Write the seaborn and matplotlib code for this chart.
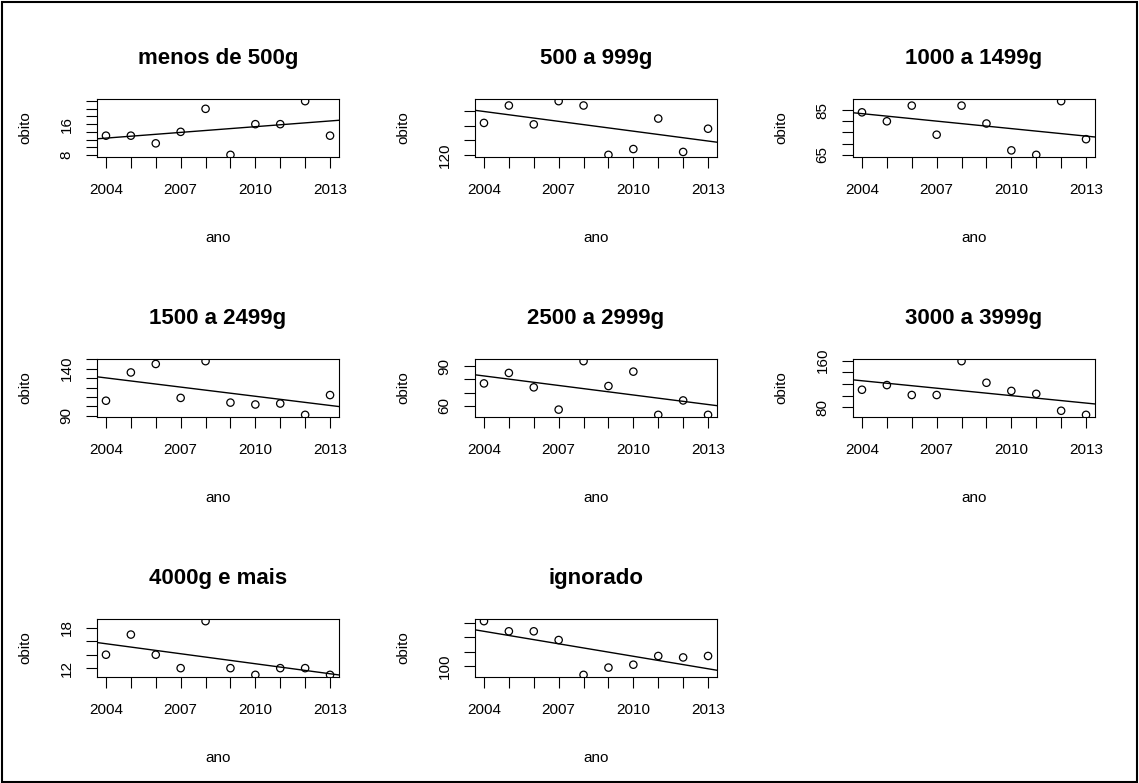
import math
import numpy as np
import pandas as pd
import seaborn as sns
import matplotlib
matplotlib.use("Agg")
import matplotlib.pyplot as plt
from matplotlib.patches import Rectangle

# ---------------- data ----------------
anos = [2004, 2005, 2006, 2007, 2008, 2009, 2010, 2011, 2012, 2013]
titulos = ["menos de 500g", "500 a 999g", "1000 a 1499g", "1500 a 2499g",
           "2500 a 2999g", "3000 a 3999g", "4000g e mais", "ignorado"]
menos_500 = [13, 13, 11, 14, 20, 8, 16, 16, 22, 13]
g500_999 = [142, 154, 141, 157, 154, 120, 124, 145, 122, 138]
g1000_1499 = [84, 80, 87, 74, 87, 79, 67, 65, 89, 72]
g1500_2499 = [106, 136, 145, 109, 148, 104, 102, 103, 91, 112]
g2500_2999 = [77, 85, 74, 57, 94, 75, 86, 53, 64, 53]
g3000_3999 = [110, 118, 101, 101, 159, 122, 108, 103, 74, 67]
g4000_mais = [14, 17, 14, 12, 19, 12, 11, 12, 12, 11]
ignorado = [131, 124, 124, 118, 94, 99, 101, 107, 106, 107]
series = [menos_500, g500_999, g1000_1499, g1500_2499,
          g2500_2999, g3000_3999, g4000_mais, ignorado]
rotulos_y = [["8", "16"], ["120"], ["65", "85"], ["90", "140"],
             ["60", "90"], ["80", "160"], ["12", "18"], ["100"]]
rotulos_x = ["2004", "2007", "2010", "2013"]


def r_pretty(lo, hi, n=5, h=0.8, h5=1.7):
    cell = (hi - lo) / n
    U = 10 ** math.floor(math.log10(cell))
    unit = U
    if 2 * U - cell < h * (cell - unit):
        unit = 2 * U
        if 5 * U - cell < h5 * (cell - unit):
            unit = 5 * U
            if 10 * U - cell < h * (cell - unit):
                unit = 10 * U
    start = math.ceil(lo / unit - 1e-9) * unit
    return np.arange(start, hi + 1e-9, unit)


def r_lim(vals):
    lo, hi = min(vals), max(vals)
    r = hi - lo
    return lo - 0.04 * r, hi + 0.04 * r


sns.set_style("white")
plt.rcParams["font.family"] = ["Liberation Sans", "DejaVu Sans"]
plt.rcParams["text.color"] = "black"
plt.rcParams["axes.labelcolor"] = "black"

W, H = 1139, 783
fig = plt.figure(figsize=(W / 100, H / 100), dpi=100)

for i, (tit, vals) in enumerate(zip(titulos, series)):
    r, c = divmod(i, 3)
    left = 97 + c * 378
    top = 99 + r * 260
    ax = fig.add_axes([left / W, 1 - (top + 58) / H, 242 / W, 58 / H])
    df = pd.DataFrame({"ano": anos, "obito": vals})
    ax.set_xlim(*r_lim(anos))
    ax.set_ylim(*r_lim(vals))
    sns.regplot(data=df, x="ano", y="obito", ax=ax, ci=None, truncate=False,
                scatter_kws=dict(s=28, facecolors="none", edgecolors="black",
                                 linewidths=0.9, alpha=1),
                line_kws=dict(color="black", lw=1.0))
    ax.set_xlim(*r_lim(anos))
    ax.set_ylim(*r_lim(vals))
    ax.set_xticks(anos)
    ax.set_xticklabels([str(a) if str(a) in rotulos_x else "" for a in anos])
    yt = r_pretty(*r_lim(vals))
    ax.set_yticks(yt)
    ax.set_yticklabels([("%g" % v) if ("%g" % v) in rotulos_y[i] else "" for v in yt],
                       rotation=90, va="center")
    ax.tick_params(axis="both", bottom=True, left=True, direction="out",
                   length=8, width=0.8, color="black", labelsize=11,
                   labelcolor="black")
    ax.tick_params(axis="x", pad=11)
    ax.tick_params(axis="y", pad=9)
    for sp in ax.spines.values():
        sp.set_visible(True)
        sp.set_color("black")
        sp.set_linewidth(0.8)
    ax.set_xlabel("ano", fontsize=11, labelpad=24)
    ax.set_ylabel("obito", fontsize=11, labelpad=19.5)
    ax.set_title(tit, fontsize=16, fontweight="bold", pad=25.5, color="black")

fig.patches.append(Rectangle((2 / W, 1 / H), (W - 4) / W, (H - 3) / H,
                             transform=fig.transFigure, fill=False,
                             edgecolor="black", linewidth=1.5))

fig.savefig("out.png", dpi=100, facecolor="white")
